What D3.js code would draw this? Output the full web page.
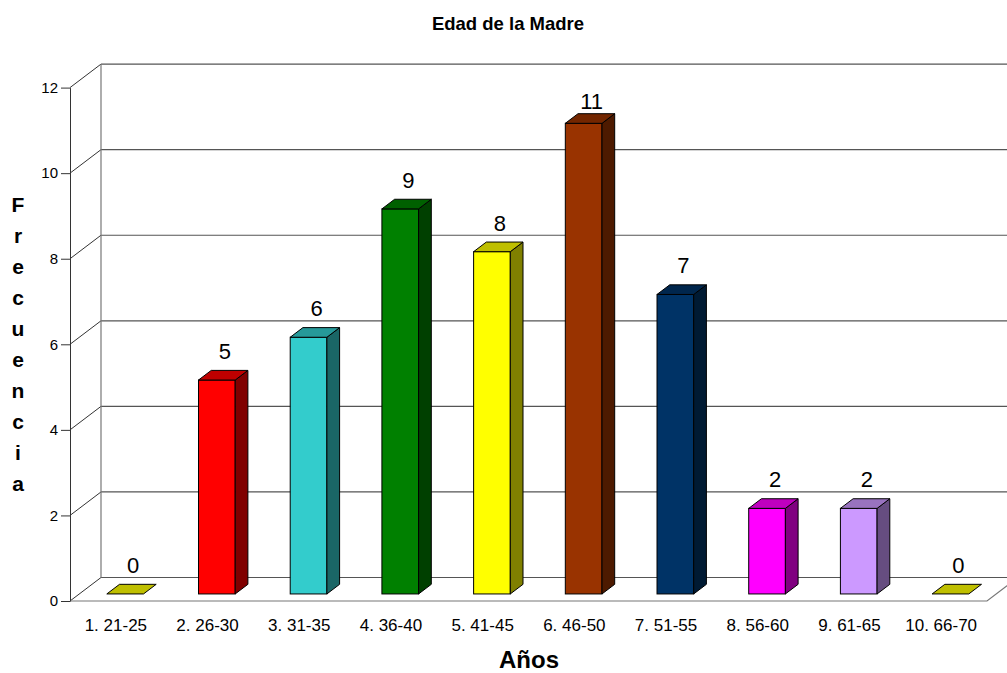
<!DOCTYPE html>
<html>
<head>
<meta charset="utf-8">
<script src="https://cdn.jsdelivr.net/npm/d3@7"></script>
<style>
  body { margin: 0; background: #fff; }
  svg { font-family: "Liberation Sans", Arial, sans-serif; }
</style>
</head>
<body>
<div id="chart"></div>
<script>
'use strict';

var categories = ['1. 21-25', '2. 26-30', '3. 31-35', '4. 36-40', '5. 41-45',
                  '6. 46-50', '7. 51-55', '8. 56-60', '9. 61-65', '10. 66-70'];
var frecuencia = [0, 5, 6, 9, 8, 11, 7, 2, 2, 0];
var barColors = ['#FFFF00', '#FF0000', '#33CCCC', '#008000', '#FFFF00',
                 '#993300', '#003366', '#FF00FF', '#CC99FF', '#FFFF00'];
var yTicks = [0, 2, 4, 6, 8, 10, 12];

var WIDTH = 1007;
var HEIGHT = 673;
var LEFT = 70, RIGHT = 987, TOP = 87.6, BOTTOM = 601;
// depth of the 3d box (back wall offset)
var DX = 31, DY = -23.5;
// bar sits between these fractions of the depth
var F0 = 0.3, F1 = 0.71;

var svg = d3.select('#chart').append('svg')
    .attr('width', WIDTH)
    .attr('height', HEIGHT);

var x = d3.scaleBand()
    .domain(categories)
    .range([LEFT, RIGHT])
    .paddingInner(0.6)
    .paddingOuter(0.3);

var y = d3.scaleLinear()
    .domain([0, 12])
    .range([BOTTOM, TOP]);

function shade(c, k) {
    var r = d3.rgb(c);
    return d3.rgb(r.r * k, r.g * k, r.b * k).toString();
}

// walls and gridlines
var grid = svg.append('g');
grid.selectAll('line.h')
    .data(yTicks)
    .enter().append('line')
    .attr('x1', LEFT + DX).attr('x2', RIGHT + DX)
    .attr('y1', function (d) { return y(d) + DY; })
    .attr('y2', function (d) { return y(d) + DY; })
    .attr('stroke', '#555').attr('stroke-width', 1.2);

grid.selectAll('line.d')
    .data(yTicks)
    .enter().append('line')
    .attr('x1', LEFT).attr('x2', LEFT + DX)
    .attr('y1', function (d) { return y(d); })
    .attr('y2', function (d) { return y(d) + DY; })
    .attr('stroke', '#333').attr('stroke-width', 1);

grid.append('line')
    .attr('x1', LEFT + DX).attr('x2', LEFT + DX)
    .attr('y1', y(0) + DY).attr('y2', y(12) + DY)
    .attr('stroke', '#777').attr('stroke-width', 1.2);

// floor front edge and right edge
grid.append('path')
    .attr('d', 'M' + LEFT + ',' + y(0) + 'L' + RIGHT + ',' + y(0) +
               'L' + (RIGHT + DX) + ',' + (y(0) + DY))
    .attr('fill', 'none')
    .attr('stroke', '#777').attr('stroke-width', 1.2);

// bars
var bars = svg.append('g').selectAll('g')
    .data(frecuencia)
    .enter().append('g');

var bw = x.bandwidth();
var bdx = (F1 - F0) * DX, bdy = (F1 - F0) * DY;

function frontX(i) { return x(categories[i]) + F0 * DX; }
function frontY(v) { return y(v) + F0 * DY; }

bars.each(function (v, i) {
    var g = d3.select(this);
    var x0 = frontX(i), x1 = x0 + bw;
    var yb = frontY(0), yt = frontY(v);
    var c = barColors[i];
    if (v > 0) {
        g.append('rect')
            .attr('x', x0).attr('y', yt)
            .attr('width', bw).attr('height', yb - yt)
            .attr('fill', c).attr('stroke', '#000').attr('stroke-width', 1);
        g.append('path')
            .attr('d', 'M' + x1 + ',' + yb + 'L' + x1 + ',' + yt +
                       'L' + (x1 + bdx) + ',' + (yt + bdy) +
                       'L' + (x1 + bdx) + ',' + (yb + bdy) + 'Z')
            .attr('fill', shade(c, 0.5)).attr('stroke', '#000').attr('stroke-width', 1);
    }
    g.append('path')
        .attr('d', 'M' + x0 + ',' + yt + 'L' + x1 + ',' + yt +
                   'L' + (x1 + bdx) + ',' + (yt + bdy) +
                   'L' + (x0 + bdx) + ',' + (yt + bdy) + 'Z')
        .attr('fill', shade(c, 0.75)).attr('stroke', '#000').attr('stroke-width', 1);
    g.append('text')
        .attr('x', x0 + bw / 2 + 8)
        .attr('y', Math.max(yt - 21, 109))
        .attr('text-anchor', 'middle')
        .attr('font-size', 22)
        .attr('fill', '#000')
        .text(v);
});

// y axis
var yAxis = svg.append('g')
    .attr('transform', 'translate(' + LEFT + ',0)')
    .call(d3.axisLeft(y).tickValues(yTicks).tickSize(9).tickSizeOuter(0).tickPadding(3));
yAxis.select('.domain').attr('stroke', '#333');
yAxis.selectAll('.tick line').attr('stroke', '#333');
yAxis.selectAll('text').attr('font-size', 15).attr('font-family', null).attr('fill', '#000');

// x axis labels
var xAxis = svg.append('g')
    .attr('transform', 'translate(0,' + BOTTOM + ')')
    .call(d3.axisBottom(x).tickSize(0).tickPadding(18));
xAxis.select('.domain').remove();
xAxis.selectAll('text').attr('font-size', 17).attr('font-family', null).attr('fill', '#000');

// titles
svg.append('text')
    .attr('x', 508).attr('y', 30)
    .attr('text-anchor', 'middle')
    .attr('font-size', 18.5).attr('font-weight', 'bold')
    .text('Edad de la Madre');

svg.append('text')
    .attr('x', 529).attr('y', 668)
    .attr('text-anchor', 'middle')
    .attr('font-size', 24).attr('font-weight', 'bold')
    .text('Años');

svg.append('g').selectAll('text')
    .data('Frecuencia'.split(''))
    .enter().append('text')
    .attr('x', 18)
    .attr('y', function (d, i) { return 212 + i * 31; })
    .attr('text-anchor', 'middle')
    .attr('font-size', 21).attr('font-weight', 'bold')
    .text(function (d) { return d; });
</script>
</body>
</html>
